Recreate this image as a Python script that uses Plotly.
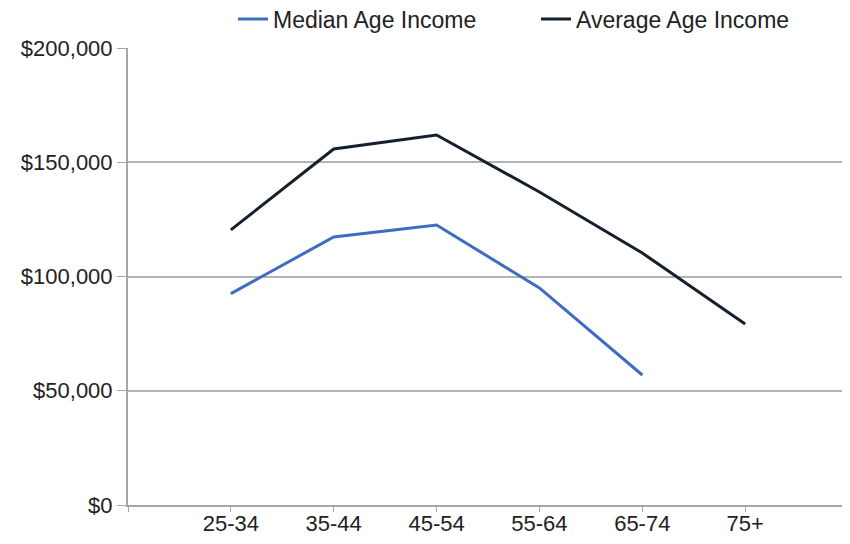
import plotly.graph_objects as go

categories = ["25-34", "35-44", "45-54", "55-64", "65-74", "75+"]
median_income = [92500, 117300, 122500, 95000, 56900, None]
average_income = [120400, 155800, 161900, 137000, 110300, 79200]
y_ticks = [0, 50000, 100000, 150000, 200000]
y_tick_labels = ["$0", "$50,000", "$100,000", "$150,000", "$200,000"]

x_idx = list(range(len(categories)))
tick_vals = [-1] + x_idx + [len(categories)]
tick_text = [""] + categories + [""]

font = "Liberation Sans, Arial, sans-serif"

fig = go.Figure()
fig.add_trace(go.Scatter(x=x_idx, y=median_income, mode="lines", name="Median Age Income",
                         line=dict(color="#3d6cc0", width=3)))
fig.add_trace(go.Scatter(x=x_idx, y=average_income, mode="lines", name="Average Age Income",
                         line=dict(color="#16202c", width=3)))

fig.update_layout(
    width=842, height=536,
    margin=dict(l=120, r=2, t=40, b=39, autoexpand=False),
    paper_bgcolor="white", plot_bgcolor="white",
    font=dict(family=font, size=22, color="#222222"),
    showlegend=True,
    legend=dict(orientation="h", x=0.1458, xanchor="left", y=1.0635, yanchor="middle",
                font=dict(size=23, color="#222222"), entrywidth=258, entrywidthmode="pixels",
                traceorder="normal", bgcolor="rgba(0,0,0,0)"),
    xaxis=dict(range=[-1, len(categories)], tickmode="array", tickvals=tick_vals, ticktext=tick_text,
               showgrid=False, zeroline=False, showline=True, linecolor="#a6a6a6", linewidth=2,
               ticks="outside", ticklen=5, tickcolor="#a6a6a6", tickwidth=1,
               ticklabelstandoff=-7,
               tickfont=dict(size=22, color="#222222")),
    yaxis=dict(range=[0, 200000], tickmode="array", tickvals=y_ticks, ticktext=y_tick_labels,
               showgrid=True, gridcolor="#b3b3b3", gridwidth=1.5, zeroline=False,
               showline=True, linecolor="#a6a6a6", linewidth=2,
               ticks="outside", ticklen=9, tickcolor="#a6a6a6", tickwidth=1,
               tickfont=dict(size=22, color="#222222")),
)

fig.write_html("out.html")
